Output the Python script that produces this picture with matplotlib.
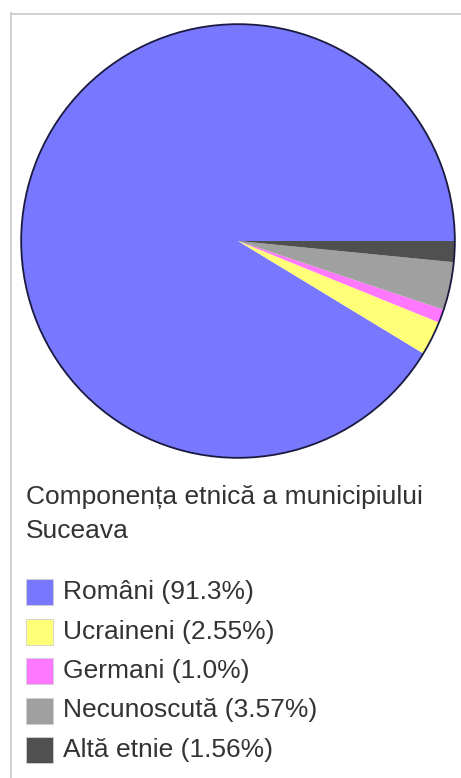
import matplotlib
matplotlib.use('Agg')
import matplotlib.pyplot as plt
from matplotlib.patches import Rectangle, Circle
from matplotlib.lines import Line2D

labels = ["Români", "Ucraineni", "Germani", "Necunoscută", "Altă etnie"]
values = [91.3, 2.55, 1.0, 3.57, 1.56]
colors = ["#7878ff", "#ffff78", "#ff78ff", "#a0a0a0", "#505050"]
title = "Componența etnică a municipiului\nSuceava"

W, H = 461, 778
fig = plt.figure(figsize=(W / 100, H / 100), dpi=100)
plt.rcParams['font.family'] = ['Liberation Sans', 'DejaVu Sans']

def fx(px):
    return px / W

def fy(py):
    return 1 - py / H

# frame lines (left and top)
fig.add_artist(Line2D([fx(10.5), fx(10.5)], [fy(13), 0], color="#c8c8c8", lw=1.2))
fig.add_artist(Line2D([fx(10.5), 1], [fy(13.5), fy(13.5)], color="#c8c8c8", lw=1.2))

# pie
cx, cy, r = 238, 241, 219
ax = fig.add_axes([fx(cx - r), fy(cy + r), (2 * r) / W, (2 * r) / H])
ax.pie(values, colors=colors, startangle=0, counterclock=True,
       wedgeprops={'linewidth': 0})
ax.add_patch(Circle((0, 0), 1, fill=False, edgecolor="#1a1a40", lw=1.3))
ax.set_xlim(-1.01, 1.01)
ax.set_ylim(-1.01, 1.01)
ax.set_aspect('equal')
ax.axis('off')

# caption
fig.text(fx(26), fy(497), title.split("\n")[0], fontsize=19, color="#333333",
         va='center', ha='left')
fig.text(fx(26), fy(531), title.split("\n")[1], fontsize=19, color="#333333",
         va='center', ha='left')

# legend
y0, step = 592, 39.5
for i, (lab, val, col) in enumerate(zip(labels, values, colors)):
    yc = y0 + i * step
    fig.add_artist(Rectangle((fx(26), fy(yc + 13)), 27 / W, 26 / H,
                             facecolor=col, edgecolor="#d0d0d0", lw=0.6))
    fig.text(fx(63), fy(yc), f"{lab} ({val}%)", fontsize=19,
             color="#333333", va='center', ha='left')

plt.savefig("out.png", dpi=100)
plt.close()
